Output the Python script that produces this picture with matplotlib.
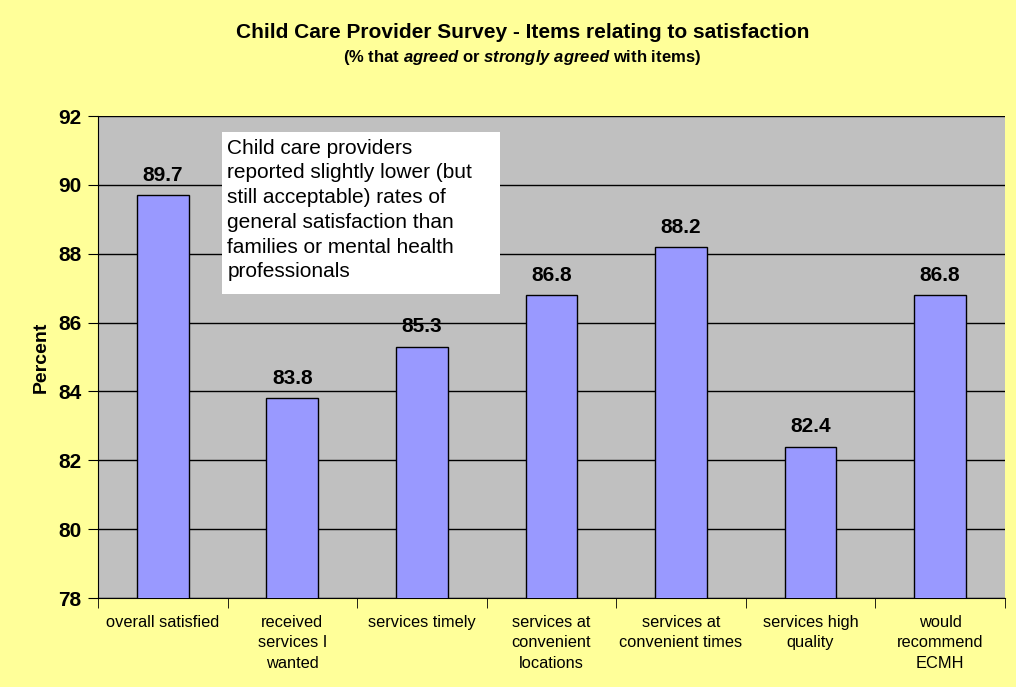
import matplotlib.pyplot as plt
import matplotlib.patches as mpatches
import numpy as np

plt.rcParams['font.family'] = ['Liberation Sans', 'DejaVu Sans']
plt.rcParams['mathtext.fontset'] = 'custom'
plt.rcParams['mathtext.rm'] = 'Liberation Sans:bold'
plt.rcParams['mathtext.it'] = 'Liberation Sans:italic:bold'

items = ['overall satisfied', 'received\nservices I\nwanted', 'services timely',
         'services at\nconvenient\nlocations', 'services at\nconvenient times',
         'services high\nquality', 'would\nrecommend\nECMH']
percent = [89.7, 83.8, 85.3, 86.8, 88.2, 82.4, 86.8]

fig = plt.figure(figsize=(10.16, 6.87), dpi=100, facecolor='#FFFF99')
ax = fig.add_axes([0.0965, 0.1295, 0.8925, 0.7015])
ax.set_facecolor('#C0C0C0')

x = np.arange(len(items))
bars = ax.bar(x, percent, width=0.4, color='#9999FF', edgecolor='black', linewidth=1, zorder=3)
for b, v in zip(bars, percent):
    ax.text(b.get_x() + b.get_width() / 2, v + 0.3, f'{v:.1f}', ha='center', va='bottom',
            fontsize=15, fontweight='bold', zorder=4)

ax.set_ylim(78, 92)
ax.set_xlim(-0.5, len(items) - 0.5)
ax.set_yticks(range(78, 93, 2))
ax.yaxis.grid(True, color='black', linewidth=1, zorder=1)
ax.set_axisbelow(True)
ax.tick_params(axis='y', labelsize=15, length=7, direction='out', pad=5)
for t in ax.get_yticklabels():
    t.set_fontweight('bold')

ax.set_xticks(x)
ax.set_xticklabels(items, fontsize=11.8, linespacing=1.45)
ax.set_xticks(np.arange(-0.5, len(items)), minor=True)
ax.tick_params(axis='x', which='major', length=0, pad=12)
ax.tick_params(axis='x', which='minor', length=7)

for s in ['top', 'right']:
    ax.spines[s].set_visible(False)

ax.set_ylabel('Percent', fontsize=14, fontweight='bold', labelpad=6)

fig.text(0.514, 0.952, 'Child Care Provider Survey - Items relating to satisfaction',
         ha='center', va='center', fontsize=15, fontweight='bold')
fig.text(0.514, 0.917, r'(% that $\mathit{agreed}$ or $\mathit{strongly\ agreed}$ with items)',
         ha='center', va='center', fontsize=12, fontweight='bold')

# white note box
ax.add_patch(mpatches.Rectangle((0.137, 0.631), 0.306, 0.336, transform=ax.transAxes,
                                facecolor='white', edgecolor='none', zorder=5))
ax.text(0.1425, 0.953, 'Child care providers\nreported slightly lower (but\nstill acceptable) rates of\n'
        'general satisfaction than\nfamilies or mental health\nprofessionals',
        transform=ax.transAxes, ha='left', va='top', fontsize=15, linespacing=1.38, zorder=6)

fig.savefig('out.png', dpi=100, facecolor=fig.get_facecolor())
